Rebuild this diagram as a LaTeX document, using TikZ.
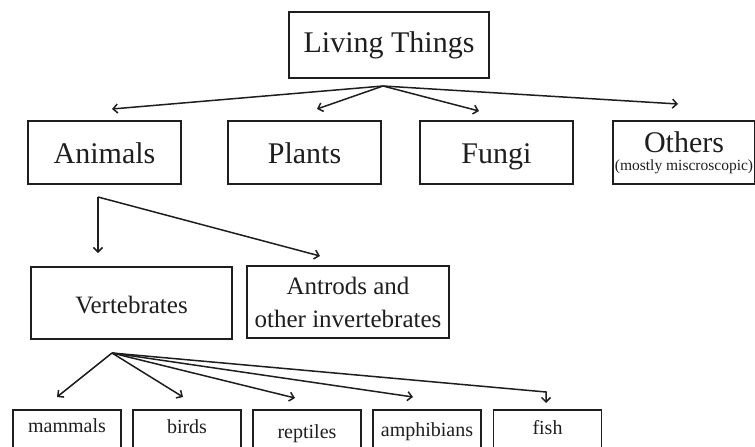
\documentclass[tikz,border=0pt]{standalone}
\usepackage{fontspec}
\setmainfont{Liberation Serif}
\usetikzlibrary{arrows.meta}
\definecolor{ink}{HTML}{1E1E1E}
\begin{document}
\begin{tikzpicture}[x=1pt,y=-1pt,
  box/.style={draw=ink,line width=1.6pt,inner sep=0pt,text=ink,align=center},
  topbox/.style={box,minimum width=153pt,minimum height=63pt,text height=21pt,text depth=0pt,font=\fontsize{30}{30}\selectfont},
  midbox/.style={box,minimum width=201pt,minimum height=72pt,font=\fontsize{25}{33}\selectfont},
  lowbox/.style={box,anchor=north,minimum width=108pt,inner ysep=3pt,text depth=40pt,font=\fontsize{20}{24}\selectfont},
  conn/.style={draw=ink,line width=1.5pt,-{Straight Barb[length=4.5pt,width=9pt,line width=1.5pt]}}]
\clip (0,0) rectangle (755,447);
\fill[white] (0,0) rectangle (755,447);
% nodes
\node[box,minimum width=200pt,minimum height=66pt,text height=21pt,text depth=7pt,font=\fontsize{30}{30}\selectfont] (living) at (389,45) {Living Things};
\node[topbox] (animals) at (104.5,152.5) {Animals};
\node[topbox] (plants) at (304.5,152.5) {Plants};
\node[topbox] (fungi) at (496.5,152.5) {Fungi};
\node[box,minimum width=142pt,minimum height=63pt,font=\fontsize{30}{30}\selectfont] (others) at (684,152.5) {Others\\[-12pt]{\fontsize{15.5}{18}\selectfont (mostly miscroscopic)}};
\node[midbox,text height=20pt,text depth=0pt] (vert) at (131.5,303) {Vertebrates};
\node[midbox,minimum width=202pt] (antrods) at (348,302) {Antrods and\\other invertebrates};
\node[lowbox,text height=20pt] (mammals) at (67,409) {mammals};
\node[lowbox,text height=21pt] (birds) at (187,409) {birds};
\node[lowbox,text height=26pt] (reptiles) at (307,409) {reptiles};
\node[lowbox,text height=24pt] (amphibians) at (427,409) {amphibians};
\node[lowbox,text height=22pt] (fish) at (547.5,409) {fish};
% fork points and arrow ends
\coordinate (ltfork) at (383,86);
\coordinate (toAnimals) at (112,109);
\coordinate (toPlants) at (317,109);
\coordinate (toFungi) at (479,111);
\coordinate (toOthers) at (678,104);
\coordinate (anfork) at (98,197);
\coordinate (toVert) at (98,253);
\coordinate (toAntrods) at (320,256);
\coordinate (vfork) at (112,353);
\coordinate (toMammals) at (57,397);
\coordinate (toBirds) at (183,397);
\coordinate (toReptiles) at (295,398);
\coordinate (toAmphibians) at (413,397);
\coordinate (fishbend) at (546,392);
\coordinate (toFish) at (546,403);
% connectors
\path[conn] (ltfork) -- (toAnimals);
\path[conn] (ltfork) -- (toPlants);
\path[conn] (ltfork) -- (toFungi);
\path[conn] (ltfork) -- (toOthers);
\path[conn] (anfork) -- (toVert);
\path[conn] (anfork) -- (toAntrods);
\path[conn] (vfork) -- (toMammals);
\path[conn] (vfork) -- (toBirds);
\path[conn] (vfork) -- (toReptiles);
\path[conn] (vfork) -- (toAmphibians);
\path[conn,line join=miter] (vfork) -- (fishbend) -- (toFish);
\end{tikzpicture}
\end{document}
